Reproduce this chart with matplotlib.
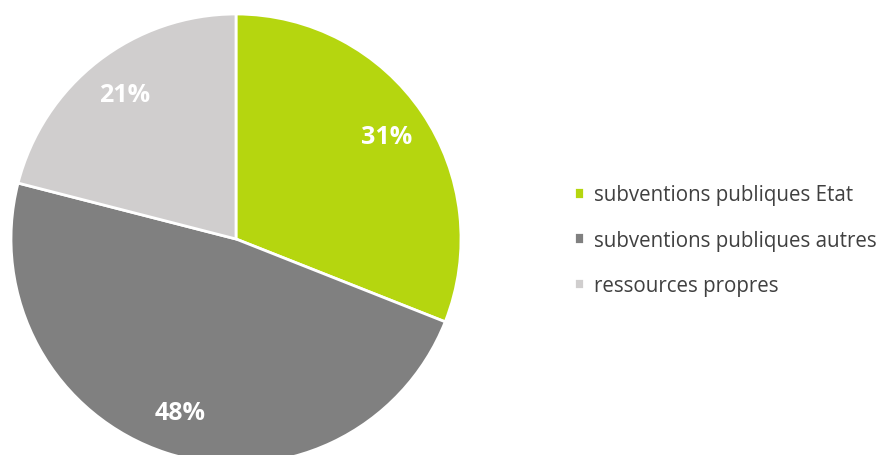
import matplotlib
matplotlib.use("Agg")
import matplotlib.pyplot as plt

labels = ["subventions publiques Etat", "subventions publiques autres", "ressources propres"]
values = [31, 48, 21]
colors = ["#B5D60F", "#808080", "#D0CECE"]

plt.rcParams['font.family'] = ['Open Sans', 'DejaVu Sans']

fig = plt.figure(figsize=(8.8, 4.56), dpi=100)
# pie centre at (236, 240) px, radius 225 px
ax = fig.add_axes([11/880, -9/456, 450/880, 450/456])
wedges, texts, autotexts = ax.pie(values, colors=colors, startangle=90, counterclock=False,
                                  radius=1, autopct='%d%%', pctdistance=0.81,
                                  wedgeprops=dict(edgecolor='white', linewidth=2),
                                  textprops=dict(color='white', fontsize=18, fontweight='bold'))
ax.set_xlim(-1, 1)
ax.set_ylim(-1, 1)
ax.set_aspect('auto')
ax.axis('off')

leg = fig.legend(wedges, labels, loc='center left', bbox_to_anchor=(574/880, 1 - 241/456),
                 frameon=False, fontsize=14.8, labelspacing=1.18, handlelength=0.5,
                 handleheight=0.5, handletextpad=0.45, borderpad=0, borderaxespad=0,
                 labelcolor='#404040')

fig.savefig("out.png", dpi=100)
